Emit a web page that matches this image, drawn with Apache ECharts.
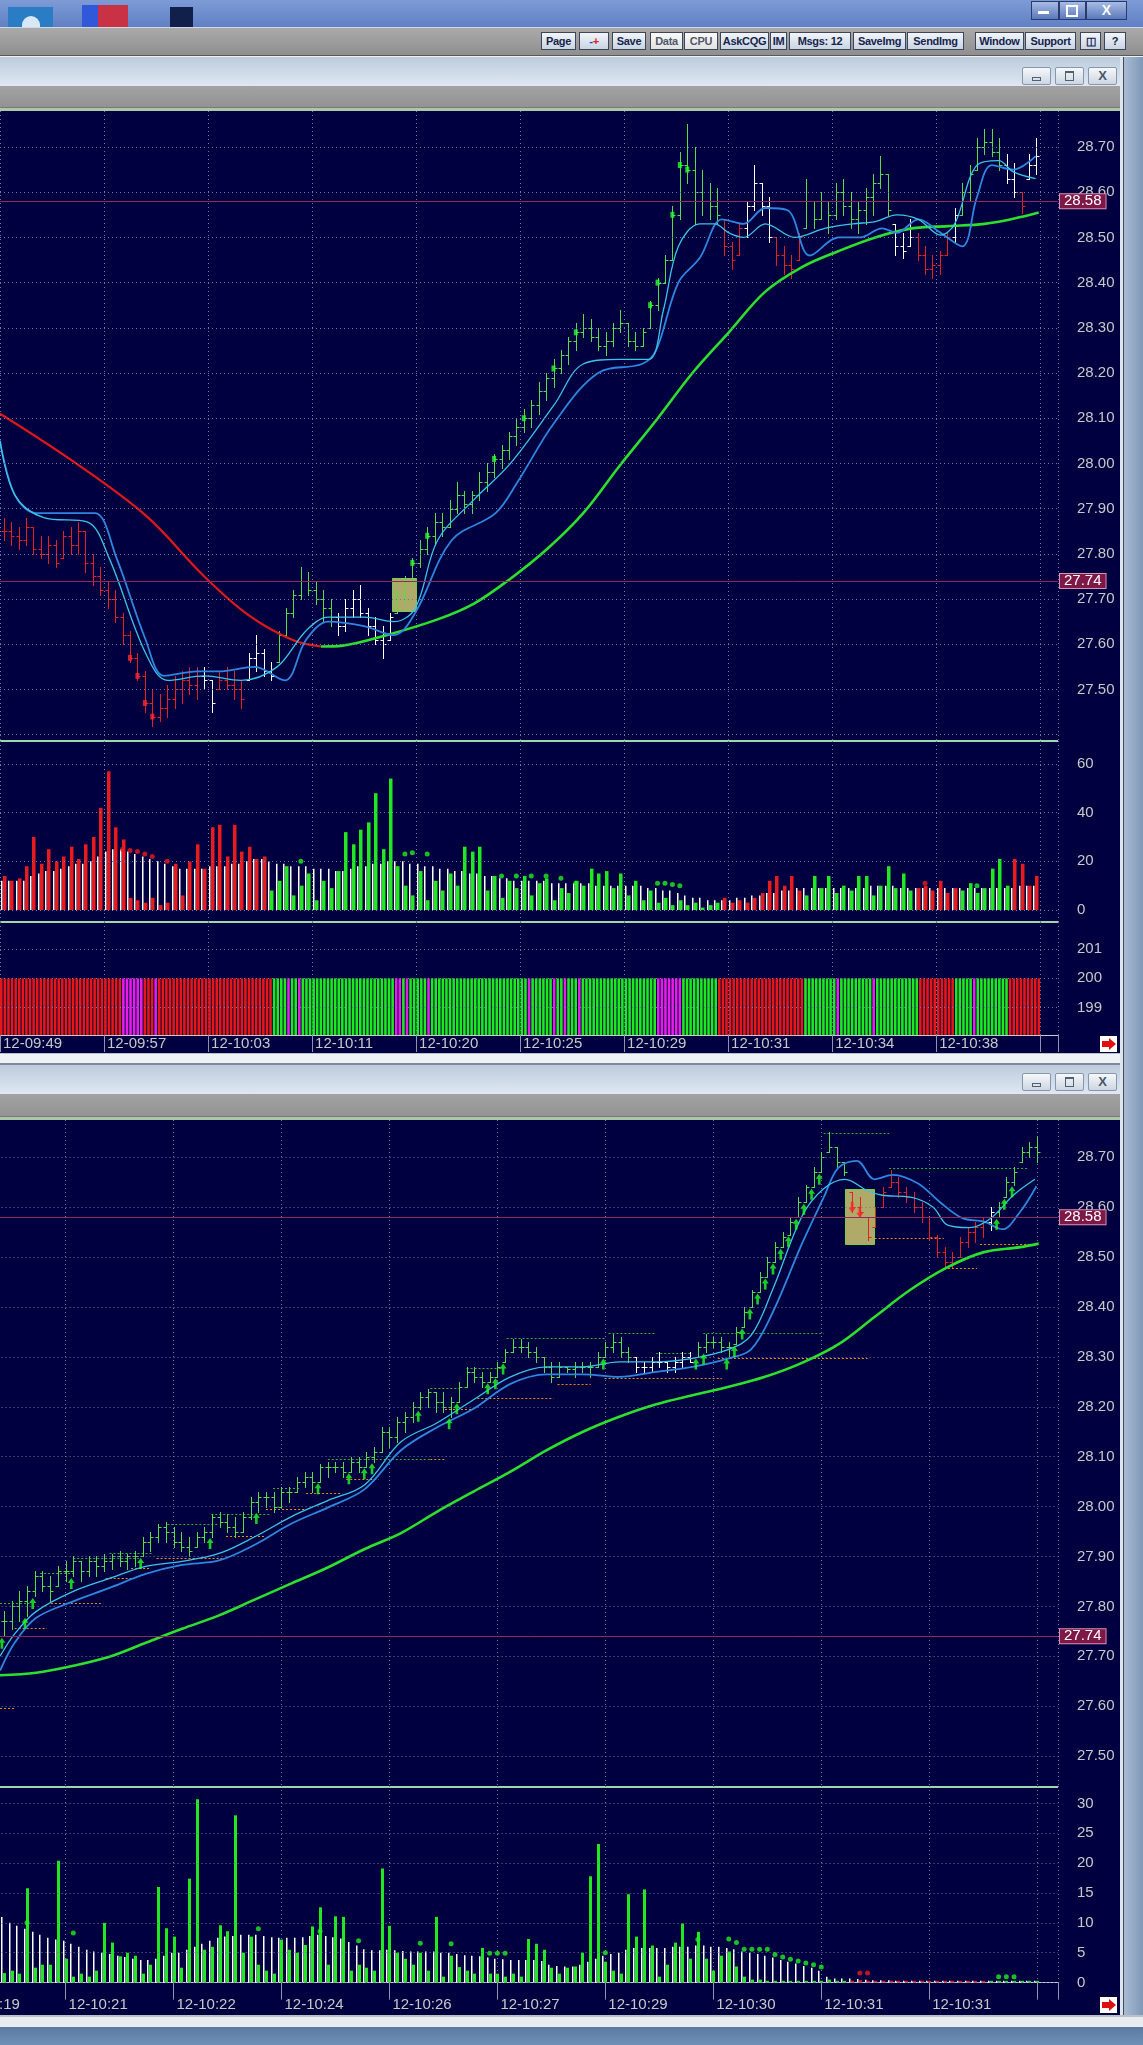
<!DOCTYPE html>
<html>
<head>
<meta charset="utf-8">
<title>CQG charts</title>
<script src="https://cdn.jsdelivr.net/npm/echarts@6.0.0/dist/echarts.min.js"></script>
<style>
  html, body { margin: 0; padding: 0; }
  body { width: 1143px; height: 2045px; position: relative; overflow: hidden; background: #6a88b0; font-family: 'Liberation Sans', Arial, sans-serif; }
  .a { position: absolute; }
  .btn { position: absolute; top: 32px; height: 16px; border: 1px solid #3c4658; background: linear-gradient(#f2f5fa, #c9d4e3); color: #16244a; font: bold 11px 'Liberation Sans Narrow', 'Liberation Sans', sans-serif; line-height: 16px; text-align: center; letter-spacing: -0.3px; white-space: nowrap; overflow: hidden; }
  .btn.lt { background: linear-gradient(#fafafa, #e2e2e2); color: #505868; }
  .wb { position: absolute; width: 27px; height: 16px; border: 1px solid #8896ab; border-radius: 2px; background: linear-gradient(#f6f8fb, #ccd6e2); }
  .tbar { position: absolute; left: 0; width: 1120px; background: linear-gradient(#bccbdc, #dfe8f3); }
  .gbar { position: absolute; left: 0; width: 1120px; background: linear-gradient(#a2a2a2, #939393); border-bottom: 1px solid #7a7a7a; }
  .pale { position: absolute; left: 0; width: 1120px; height: 3px; background: #a8c8a8; }
  .navy { position: absolute; left: 0; width: 1120px; background: #000040; }
  .sep { position: absolute; left: 0; width: 1058px; height: 2px; background: #9cd8aa; }
  .rarrow { position: absolute; left: 1100px; width: 17px; height: 16px; background: #ffffff; z-index: 3; }
  .rarrow i { position: absolute; left: 2px; top: 5px; width: 7px; height: 6px; background: #e01010; }
  .rarrow b { position: absolute; left: 9px; top: 2px; width: 0; height: 0; border-left: 7px solid #e01010; border-top: 6px solid transparent; border-bottom: 6px solid transparent; }
  #chart { position: absolute; left: 0; top: 0; width: 1143px; height: 2045px; z-index: 2; }
</style>
</head>
<body>
<!-- desktop / glass strip -->
<div class="a" style="left:0;top:0;width:1143px;height:27px;background:linear-gradient(#7d9bd6,#5f80c4)"></div>
<div class="a" style="left:8px;top:7px;width:45px;height:20px;background:#2a7cc4"></div>
<div class="a" style="left:22px;top:16px;width:18px;height:11px;border-radius:9px 9px 0 0;background:#d8e8f8"></div>
<div class="a" style="left:82px;top:5px;width:16px;height:22px;background:#3058d8"></div>
<div class="a" style="left:98px;top:5px;width:30px;height:22px;background:#c83244"></div>
<div class="a" style="left:170px;top:7px;width:23px;height:20px;background:#10204a"></div>
<div class="a" style="left:1031px;top:1px;width:26px;height:17px;border:1px solid #2a3a6a;background:linear-gradient(#a8bce4,#5a78bc)"></div>
<div class="a" style="left:1038px;top:11px;width:11px;height:3px;background:#fff"></div>
<div class="a" style="left:1059px;top:1px;width:25px;height:17px;border:1px solid #2a3a6a;background:linear-gradient(#a8bce4,#5a78bc)"></div>
<div class="a" style="left:1066px;top:5px;width:8px;height:8px;border:2px solid #fff"></div>
<div class="a" style="left:1086px;top:1px;width:39px;height:17px;border:1px solid #2a3a6a;background:linear-gradient(#a8bce4,#5a78bc);color:#fff;font:bold 14px 'Liberation Sans';text-align:center;line-height:17px">X</div>

<!-- toolbar -->
<div class="a" style="left:0;top:27px;width:1143px;height:28px;background:linear-gradient(#aaaaaa,#8e8e8e);border-top:1px solid #d0d8e8"></div>
<div class="btn" style="left:541px;width:33px">Page</div>
<div class="btn" style="left:579px;width:28px"><span style="color:#2040d0">-</span><span style="color:#e02020">+</span></div>
<div class="btn" style="left:612px;width:32px">Save</div>
<div class="btn lt" style="left:650px;width:31px">Data</div>
<div class="btn lt" style="left:684px;width:32px">CPU</div>
<div class="btn" style="left:720px;width:47px">AskCQG</div>
<div class="btn" style="left:770px;width:15px">IM</div>
<div class="btn" style="left:789px;width:60px">Msgs: 12</div>
<div class="btn" style="left:853px;width:51px">SaveImg</div>
<div class="btn" style="left:907px;width:55px">SendImg</div>
<div class="btn" style="left:975px;width:47px">Window</div>
<div class="btn" style="left:1025px;width:49px">Support</div>
<div class="btn" style="left:1080px;width:19px">&#9707;</div>
<div class="btn" style="left:1104px;width:20px">?</div>
<div class="a" style="left:0;top:55px;width:1143px;height:1px;background:#5a5a5a"></div>
<div class="a" style="left:0;top:56px;width:1143px;height:1px;background:#f0f0f0"></div>

<!-- window frame on the right -->
<div class="a" style="left:1120px;top:57px;width:3px;height:1970px;background:#dde6ef"></div>
<div class="a" style="left:1123px;top:57px;width:1px;height:1970px;background:#404a5a"></div>
<div class="a" style="left:1124px;top:57px;width:19px;height:1970px;background:linear-gradient(90deg,#a9bbd3,#7f98b8)"></div>

<!-- window 1 -->
<div class="tbar" style="top:57px;height:29px"></div>
<div class="wb" style="left:1022px;top:67px"><div class="a" style="left:9px;top:9px;width:7px;height:2px;border:1px solid #506070"></div></div>
<div class="wb" style="left:1055px;top:67px"><div class="a" style="left:9px;top:3px;width:7px;height:7px;border:1px solid #506070;border-top-width:2px"></div></div>
<div class="wb" style="left:1088px;top:67px;color:#4a5668;font:bold 13px 'Liberation Sans';text-align:center;line-height:16px">X</div>
<div class="gbar" style="top:86px;height:21px"></div>
<div class="pale" style="top:108px"></div>
<div class="navy" style="top:111px;height:942px"></div>
<div class="sep" style="top:740px"></div>
<div class="sep" style="top:921px"></div>
<div class="rarrow" style="top:1036px"><i></i><b></b></div>
<div class="a" style="left:0;top:1053px;width:1120px;height:1px;background:#b8c0c8"></div>
<div class="a" style="left:0;top:1054px;width:1120px;height:9px;background:#eef2f6"></div>
<div class="a" style="left:0;top:1063px;width:1120px;height:2px;background:#7c8a9c"></div>

<!-- window 2 -->
<div class="tbar" style="top:1065px;height:29px"></div>
<div class="wb" style="left:1022px;top:1073px"><div class="a" style="left:9px;top:9px;width:7px;height:2px;border:1px solid #506070"></div></div>
<div class="wb" style="left:1055px;top:1073px"><div class="a" style="left:9px;top:3px;width:7px;height:7px;border:1px solid #506070;border-top-width:2px"></div></div>
<div class="wb" style="left:1088px;top:1073px;color:#4a5668;font:bold 13px 'Liberation Sans';text-align:center;line-height:16px">X</div>
<div class="gbar" style="top:1094px;height:22px"></div>
<div class="pale" style="top:1117px"></div>
<div class="navy" style="top:1120px;height:895px"></div>
<div class="sep" style="top:1786px"></div>
<div class="rarrow" style="top:1997px"><i></i><b></b></div>
<div class="a" style="left:0;top:2015px;width:1143px;height:2px;background:#b8c0c8"></div>
<div class="a" style="left:0;top:2017px;width:1143px;height:10px;background:#e8ecf0"></div>
<div class="a" style="left:0;top:2027px;width:1143px;height:18px;background:linear-gradient(#5a7aa0,#7090b8)"></div>

<div id="chart"></div>

<script>
// ---------- upper window: ~140 bars, x = bar slot ----------
const TOP_TIMES = ['12-09:49', '12-09:57', '12-10:03', '12-10:11', '12-10:20', '12-10:25', '12-10:29', '12-10:31', '12-10:34', '12-10:38'];

const TOP_LO = [
  27.83, 27.82, 27.81, 27.82, 27.80, 27.79, 27.78, 27.77, 27.79, 27.80,
  27.80, 27.76, 27.73, 27.71, 27.68, 27.65, 27.60, 27.56, 27.52, 27.45,
  27.42, 27.43, 27.44, 27.46, 27.47, 27.49, 27.48, 27.50, 27.45, 27.50,
  27.50, 27.48, 27.46, 27.52, 27.54, 27.53, 27.52, 27.56, 27.62, 27.66,
  27.70, 27.71, 27.69, 27.65, 27.64, 27.62, 27.63, 27.66, 27.66, 27.62,
  27.60, 27.57, 27.61, 27.67, 27.69, 27.73, 27.77, 27.80, 27.82, 27.84,
  27.86, 27.89, 27.89, 27.89, 27.92, 27.94, 27.97, 27.99, 28.01, 28.04,
  28.07, 28.08, 28.11, 28.14, 28.17, 28.20, 28.22, 28.25, 28.28, 28.27,
  28.25, 28.24, 28.26, 28.29, 28.26, 28.25, 28.26, 28.30, 28.34, 28.40,
  28.45, 28.54, 28.62, 28.53, 28.55, 28.54, 28.53, 28.46, 28.43, 28.46,
  28.50, 28.56, 28.55, 28.49, 28.44, 28.42, 28.41, 28.45, 28.52, 28.52,
  28.54, 28.51, 28.54, 28.55, 28.52, 28.51, 28.53, 28.55, 28.61, 28.55,
  28.46, 28.455, 28.48, 28.45, 28.42, 28.41, 28.42, 28.46, 28.49, 28.55,
  28.58, 28.65, 28.685, 28.68, 28.65, 28.62, 28.59, 28.555, 28.63, 28.64
];
const TOP_HI = [
  27.88, 27.87, 27.86, 27.88, 27.86, 27.84, 27.84, 27.83, 27.85, 27.86,
  27.87, 27.85, 27.80, 27.77, 27.74, 27.72, 27.67, 27.63, 27.58, 27.54,
  27.50, 27.49, 27.51, 27.53, 27.54, 27.55, 27.55, 27.55, 27.52, 27.54,
  27.55, 27.54, 27.52, 27.58, 27.62, 27.59, 27.56, 27.63, 27.68, 27.72,
  27.77, 27.76, 27.74, 27.72, 27.70, 27.67, 27.70, 27.72, 27.73, 27.68,
  27.66, 27.64, 27.67, 27.72, 27.75, 27.79, 27.83, 27.86, 27.89, 27.89,
  27.92, 27.96, 27.94, 27.94, 27.98, 28.00, 28.02, 28.04, 28.07, 28.10,
  28.12, 28.14, 28.18, 28.20, 28.23, 28.25, 28.28, 28.31, 28.33, 28.32,
  28.30, 28.29, 28.31, 28.34, 28.31, 28.29, 28.30, 28.36, 28.41, 28.46,
  28.57, 28.69, 28.75, 28.70, 28.65, 28.62, 28.61, 28.54, 28.49, 28.53,
  28.58, 28.66, 28.62, 28.59, 28.50, 28.48, 28.46, 28.51, 28.63, 28.58,
  28.60, 28.58, 28.62, 28.63, 28.60, 28.58, 28.61, 28.64, 28.68, 28.64,
  28.53, 28.51, 28.54, 28.51, 28.48, 28.46, 28.47, 28.51, 28.565, 28.62,
  28.66, 28.72, 28.74, 28.74, 28.72, 28.685, 28.665, 28.60, 28.685, 28.72
];
const TOP_CL = [
  27.85, 27.84, 27.83, 27.86, 27.81, 27.80, 27.82, 27.78, 27.84, 27.82,
  27.85, 27.78, 27.75, 27.72, 27.70, 27.66, 27.62, 27.57, 27.53, 27.47,
  27.44, 27.46, 27.48, 27.50, 27.52, 27.51, 27.53, 27.52, 27.47, 27.52,
  27.51, 27.50, 27.48, 27.57, 27.58, 27.54, 27.53, 27.62, 27.67, 27.71,
  27.74, 27.72, 27.70, 27.68, 27.66, 27.64, 27.68, 27.70, 27.67, 27.64,
  27.61, 27.60, 27.66, 27.71, 27.74, 27.78, 27.81, 27.84, 27.87, 27.86,
  27.90, 27.93, 27.91, 27.93, 27.96, 27.98, 28.01, 28.03, 28.06, 28.08,
  28.10, 28.13, 28.16, 28.19, 28.21, 28.24, 28.27, 28.29, 28.30, 28.28,
  28.26, 28.27, 28.30, 28.31, 28.27, 28.26, 28.29, 28.35, 28.40, 28.45,
  28.55, 28.66, 28.65, 28.60, 28.58, 28.57, 28.55, 28.48, 28.45, 28.52,
  28.57, 28.62, 28.57, 28.50, 28.46, 28.44, 28.43, 28.50, 28.58, 28.54,
  28.58, 28.55, 28.60, 28.57, 28.54, 28.56, 28.59, 28.62, 28.64, 28.56,
  28.48, 28.47, 28.50, 28.46, 28.43, 28.44, 28.46, 28.50, 28.55, 28.60,
  28.64, 28.70, 28.71, 28.69, 28.66, 28.63, 28.60, 28.57, 28.66, 28.68
];
// bar colour runs: g = up, r = down, w = neutral
const TOP_BAR_RUNS = [['r', 27], ['w', 2], ['r', 4], ['w', 4], ['g', 8], ['w', 8], ['g', 44], ['r', 3], ['w', 4], ['r', 4],
  ['g', 12], ['w', 3], ['r', 5], ['w', 1], ['g', 6], ['w', 2], ['r', 1], ['w', 2]];

const TOP_MA_RED = [[0, 28.11], [9.8, 28.005], [19.6, 27.885], [27.5, 27.75], [33.4, 27.665], [39.3, 27.61], [43.2, 27.595]];
const TOP_MA_GREEN = [[43.2, 27.595], [46.1, 27.597], [52, 27.62], [58.9, 27.655], [63.8, 27.69], [68.7, 27.745], [73.6, 27.81],
  [78.5, 27.89], [83.4, 27.995], [88.3, 28.095], [93.2, 28.20], [98.1, 28.29], [103, 28.38], [108, 28.435], [112.9, 28.47],
  [117.8, 28.50], [122.7, 28.52], [127.6, 28.525], [132.5, 28.53], [137.4, 28.545], [139.8, 28.555]];
const TOP_MA_CYAN = [[0, 28.05], [2, 27.93], [5.9, 27.88], [11.8, 27.87], [14.7, 27.79], [19.6, 27.58], [22.6, 27.52], [27.5, 27.53],
  [32.4, 27.52], [37.3, 27.55], [41.2, 27.63], [44.2, 27.66], [49, 27.66], [53, 27.65], [55.9, 27.68], [58.9, 27.83], [63.8, 27.92],
  [68.7, 28.00], [74.6, 28.13], [78.5, 28.22], [83.4, 28.23], [87.3, 28.23], [89.3, 28.34], [91.3, 28.48], [94.2, 28.53], [96.2, 28.53],
  [98.1, 28.51], [100.1, 28.50], [103, 28.53], [107, 28.50], [111, 28.52], [114.8, 28.53], [117.8, 28.535], [120.7, 28.55],
  [123.6, 28.54], [126.6, 28.505], [128.5, 28.53], [131.5, 28.66], [134.4, 28.67], [136.4, 28.645], [139.4, 28.63]];
const TOP_MA_BLUE = [[0, 28.05], [2, 27.93], [4.9, 27.89], [9.8, 27.89], [12.8, 27.89], [15.7, 27.79], [19.6, 27.61], [22.1, 27.53],
  [26.5, 27.54], [29.4, 27.54], [34.3, 27.55], [38.3, 27.52], [41.2, 27.61], [44.2, 27.65], [49, 27.64], [53, 27.62], [55.9, 27.67],
  [60.8, 27.83], [66.7, 27.89], [69.7, 27.96], [74.6, 28.09], [80.5, 28.20], [86.4, 28.22], [88.3, 28.25], [91.3, 28.40],
  [94.2, 28.455], [97.2, 28.54], [100.1, 28.53], [103, 28.565], [106, 28.56], [109, 28.46], [112.9, 28.50], [115.8, 28.50],
  [118.7, 28.52], [120.7, 28.51], [123.6, 28.54], [126.6, 28.51], [129.5, 28.48], [131.5, 28.59], [133.5, 28.66], [136.4, 28.65],
  [139.4, 28.68]];
const TOP_BOX = [52.7, 55.9, 27.746, 27.672];
const TOP_MARK_GREEN = [55, 57, 66, 70, 74, 77, 87, 88, 90, 91, 92];
const TOP_MARK_RED = [17, 18, 19, 20];

const TOP_VOL = [
  14, 12, 13, 18, 30, 19, 25, 20, 22, 26,
  21, 27, 30, 42, 57, 34, 29, 5, 4, 3,
  5, 2, 3, 19, 6, 20, 27, 17, 34, 35,
  22, 35, 24, 26, 21, 22, 8, 12, 18, 6,
  10, 15, 4, 12, 9, 16, 32, 27, 33, 36,
  48, 25, 54, 18, 10, 6, 16, 4, 12, 8,
  15, 10, 26, 24, 26, 8, 14, 5, 12, 9,
  14, 6, 11, 13, 4, 9, 7, 12, 10, 17,
  15, 16, 9, 15, 6, 12, 4, 8, 3, 5,
  2, 4, 2, 3, 1, 2, 3, 5, 3, 4,
  3, 5, 7, 12, 14, 10, 14, 8, 6, 14,
  9, 14, 7, 10, 8, 14, 14, 6, 10, 18,
  9, 15, 8, 9, 10, 8, 12, 7, 9, 8,
  11, 7, 9, 17, 21, 10, 21, 19, 10, 14
];
const TOP_VOL_AVG = [
  12, 12, 12, 12, 14, 15, 16, 16, 17, 18,
  19, 19, 20, 22, 24, 25, 25, 24, 23, 22,
  21, 20, 19, 18, 17, 17, 17, 17, 18, 18,
  18, 19, 19, 20, 21, 21, 20, 19, 19, 18,
  18, 18, 17, 17, 17, 16, 16, 17, 18, 18,
  19, 19, 20, 20, 20, 19, 19, 18, 18, 17,
  17, 16, 16, 15, 15, 14, 14, 13, 13, 12,
  12, 12, 12, 12, 11, 11, 11, 11, 11, 11,
  10, 10, 10, 10, 10, 10, 10, 9, 9, 8,
  8, 7, 6, 5, 5, 4, 4, 4, 4, 5,
  5, 6, 6, 7, 7, 8, 8, 9, 9, 9,
  9, 9, 9, 9, 9, 9, 9, 10, 10, 10,
  10, 9, 9, 9, 9, 9, 9, 9, 9, 9,
  9, 9, 9, 9, 9, 9, 9, 10, 10, 10
];
const TOP_VOL_RUNS = [['r', 36], ['g', 61], ['r', 11], ['g', 15], ['r', 6], ['g', 7], ['r', 4]];
const TOP_VOL_DOTS = [[16, 25, 'r'], [17, 24.5, 'r'], [18, 24, 'r'], [19, 23, 'r'], [20, 22, 'r'], [22, 20, 'r'], [40, 20, 'g'],
  [54, 23, 'g'], [55, 23.5, 'g'], [57, 23, 'g'], [67, 14, 'g'], [69, 14, 'g'], [71, 14, 'g'], [73, 14, 'g'], [75, 13, 'g'],
  [77, 11, 'g'], [88, 11, 'g'], [89, 11, 'g'], [90, 10.5, 'g'], [91, 10, 'g'], [124, 11, 'r'], [131, 10, 'g']];

// state strip, one cell per tick bar: R red, M magenta, G green
const IND_RUNS = [['R', 34], ['M', 6], ['R', 3], ['M', 1], ['R', 32], ['G', 4], ['M', 1], ['G', 2], ['M', 1], ['G', 26],
  ['M', 2], ['G', 1], ['M', 1], ['G', 5], ['M', 1], ['G', 27], ['M', 1], ['G', 6], ['M', 1], ['G', 2], ['M', 1], ['G', 3],
  ['M', 1], ['G', 21], ['M', 7], ['G', 10], ['R', 24], ['G', 9], ['M', 1], ['G', 9], ['M', 1], ['G', 12], ['R', 10],
  ['G', 5], ['M', 1], ['G', 9], ['R', 9]];
const IND_LEVEL = 200;

const TOP_PRICE_LINES = [27.40, 27.50, 27.60, 27.70, 27.80, 27.90, 28.00, 28.10, 28.20, 28.30, 28.40, 28.50, 28.60, 28.70];
const TOP_PRICE_LABELS = [27.50, 27.60, 27.70, 27.80, 27.90, 28.00, 28.10, 28.20, 28.30, 28.40, 28.50, 28.60, 28.70];
const TOP_PRICE_MINOR = [27.45, 27.55, 27.65, 27.75, 27.85, 27.95, 28.05, 28.15, 28.25, 28.35, 28.45, 28.55, 28.65, 28.75];
const TOP_VOL_LABELS = [0, 20, 40, 60];
const TOP_VOL_MINOR = [10, 30, 50];
const IND_LABELS = [199, 200, 201];
const IND_MINOR = [199.5, 200.5];
const REF_LEVELS = [28.58, 27.74];

// ---------- lower window: bars at x = 6 .. 140 ----------
const BOT_TIMES = ['12-10:19', '12-10:21', '12-10:22', '12-10:24', '12-10:26', '12-10:27', '12-10:29', '12-10:30', '12-10:31', '12-10:31'];
const BOT_START = 6;
const BOT_LO = [
  27.74, 27.755, 27.77, 27.78, 27.82, 27.83, 27.81, 27.84, 27.85, 27.86,
  27.85, 27.86, 27.86, 27.87, 27.875, 27.88, 27.875, 27.88, 27.90, 27.91,
  27.93, 27.93, 27.92, 27.91, 27.90, 27.92, 27.93, 27.94, 27.96, 27.95,
  27.94, 27.95, 27.975, 27.99, 28.00, 27.99, 28.00, 28.01, 28.03, 28.04,
  28.03, 28.05, 28.06, 28.07, 28.06, 28.07, 28.07, 28.08, 28.09, 28.11,
  28.12, 28.13, 28.15, 28.17, 28.195, 28.20, 28.19, 28.19, 28.18, 28.21,
  28.24, 28.25, 28.24, 28.25, 28.26, 28.29, 28.31, 28.31, 28.30, 28.29,
  28.27, 28.25, 28.26, 28.27, 28.26, 28.27, 28.26, 28.28, 28.30, 28.31,
  28.30, 28.29, 28.27, 28.27, 28.27, 28.28, 28.27, 28.27, 28.28, 28.29,
  28.30, 28.31, 28.32, 28.31, 28.30, 28.325, 28.36, 28.40, 28.43, 28.46,
  28.49, 28.52, 28.545, 28.58, 28.61, 28.64, 28.67, 28.71, 28.68, 28.665,
  28.59, 28.58, 28.535, 28.56, 28.60, 28.64, 28.62, 28.61, 28.59, 28.57,
  28.535, 28.50, 28.48, 28.48, 28.50, 28.52, 28.53, 28.54, 28.555, 28.58,
  28.62, 28.645, 28.69, 28.70, 28.69
];
const BOT_HI = [
  27.79, 27.81, 27.83, 27.84, 27.87, 27.87, 27.86, 27.88, 27.89, 27.90,
  27.89, 27.90, 27.90, 27.905, 27.905, 27.91, 27.905, 27.91, 27.94, 27.95,
  27.965, 27.97, 27.96, 27.95, 27.94, 27.95, 27.96, 27.985, 27.99, 27.985,
  27.98, 27.99, 28.02, 28.03, 28.03, 28.03, 28.04, 28.04, 28.06, 28.07,
  28.07, 28.085, 28.09, 28.09, 28.09, 28.10, 28.10, 28.11, 28.12, 28.16,
  28.16, 28.18, 28.19, 28.21, 28.23, 28.235, 28.23, 28.23, 28.22, 28.25,
  28.28, 28.28, 28.27, 28.27, 28.29, 28.315, 28.335, 28.335, 28.33, 28.32,
  28.30, 28.29, 28.29, 28.28, 28.29, 28.29, 28.29, 28.31, 28.33, 28.345,
  28.34, 28.32, 28.30, 28.29, 28.30, 28.31, 28.29, 28.30, 28.31, 28.31,
  28.33, 28.345, 28.34, 28.34, 28.33, 28.36, 28.40, 28.435, 28.47, 28.50,
  28.53, 28.55, 28.58, 28.62, 28.645, 28.68, 28.71, 28.75, 28.72, 28.69,
  28.63, 28.62, 28.58, 28.60, 28.64, 28.675, 28.66, 28.64, 28.63, 28.61,
  28.58, 28.545, 28.52, 28.51, 28.54, 28.56, 28.57, 28.58, 28.60, 28.61,
  28.66, 28.68, 28.72, 28.73, 28.74
];
const BOT_CL = [
  27.77, 27.80, 27.81, 27.83, 27.86, 27.84, 27.83, 27.87, 27.87, 27.89,
  27.87, 27.89, 27.88, 27.89, 27.90, 27.89, 27.90, 27.90, 27.93, 27.94,
  27.96, 27.95, 27.93, 27.92, 27.91, 27.94, 27.95, 27.98, 27.97, 27.96,
  27.95, 27.98, 28.01, 28.02, 28.02, 28.00, 28.03, 28.03, 28.05, 28.06,
  28.05, 28.08, 28.08, 28.08, 28.07, 28.09, 28.08, 28.10, 28.11, 28.15,
  28.14, 28.17, 28.18, 28.20, 28.22, 28.23, 28.21, 28.20, 28.21, 28.24,
  28.27, 28.26, 28.25, 28.26, 28.28, 28.31, 28.32, 28.32, 28.31, 28.30,
  28.28, 28.26, 28.28, 28.275, 28.28, 28.28, 28.28, 28.30, 28.32, 28.33,
  28.31, 28.30, 28.28, 28.28, 28.29, 28.29, 28.28, 28.29, 28.30, 28.29,
  28.32, 28.33, 28.33, 28.32, 28.32, 28.35, 28.39, 28.43, 28.46, 28.49,
  28.52, 28.54, 28.57, 28.61, 28.64, 28.67, 28.70, 28.72, 28.69, 28.67,
  28.60, 28.59, 28.54, 28.58, 28.63, 28.65, 28.63, 28.62, 28.60, 28.58,
  28.54, 28.51, 28.49, 28.50, 28.53, 28.55, 28.56, 28.57, 28.59, 28.60,
  28.65, 28.67, 28.71, 28.72, 28.71
];
const BOT_BAR_RUNS = [['g', 82], ['w', 8], ['g', 20], ['r', 18], ['w', 1], ['g', 6]];

const BOT_MA_LONG = [[5.5, 27.662], [10.2, 27.667], [15, 27.681], [19.7, 27.699], [24.4, 27.727], [29.1, 27.755], [33.9, 27.782],
  [38.6, 27.814], [43.3, 27.846], [48, 27.878], [52.8, 27.915], [57.5, 27.947], [62.2, 27.99], [66.9, 28.03], [71.7, 28.07],
  [76.4, 28.113], [81.1, 28.15], [85.8, 28.18], [90.6, 28.205], [95.3, 28.223], [100, 28.24], [104.7, 28.26], [109.5, 28.288],
  [114.2, 28.325], [118.9, 28.38], [123.6, 28.435], [128.4, 28.48], [133.1, 28.51], [137.8, 28.52], [140.2, 28.527]];
const BOT_MA_CYAN = [[5.5, 27.70], [7.4, 27.745], [10.2, 27.79], [15, 27.83], [19.7, 27.856], [24.4, 27.88], [29.1, 27.89],
  [33.9, 27.906], [38.6, 27.94], [43.3, 27.98], [48, 28.012], [52.8, 28.044], [57.5, 28.13], [62.2, 28.168], [66.9, 28.214],
  [71.7, 28.26], [76.4, 28.28], [81.1, 28.28], [85.8, 28.29], [90.6, 28.29], [95.3, 28.297], [100, 28.315], [102.9, 28.343],
  [105.7, 28.435], [109.5, 28.582], [112.3, 28.637], [115.1, 28.656], [118, 28.633], [119.9, 28.624], [123.6, 28.62],
  [126.5, 28.60], [128.4, 28.564], [131.2, 28.559], [134, 28.578], [136.9, 28.624], [139.7, 28.656]];
const BOT_MA_BLUE = [[5.5, 27.671], [7.4, 27.727], [10.2, 27.777], [15, 27.81], [19.7, 27.837], [24.4, 27.865], [29.1, 27.883],
  [33.9, 27.892], [38.6, 27.924], [43.3, 27.966], [48, 27.998], [52.8, 28.035], [57.5, 28.113], [62.2, 28.159], [66.9, 28.196],
  [71.7, 28.246], [76.4, 28.265], [81.1, 28.265], [85.8, 28.26], [90.6, 28.27], [95.3, 28.28], [100, 28.297], [102.9, 28.315],
  [105.7, 28.389], [109.5, 28.527], [112.3, 28.619], [114.2, 28.679], [116.6, 28.693], [118.9, 28.656], [121.3, 28.665],
  [124.6, 28.647], [127.4, 28.61], [130.3, 28.578], [133.1, 28.571], [135.5, 28.556], [137.8, 28.591], [139.9, 28.642]];
const BOT_BOX = [115.1, 118.9, 28.637, 28.527];
// dashed trade levels: [from, to, price, g = green / o = orange]
const BOT_LEVELS = [[112.3, 120.8, 28.748, 'g'], [120.8, 138.8, 28.678, 'g'], [118.4, 127.9, 28.538, 'o'], [132.6, 139.7, 28.527, 'o'],
  [127.9, 132.2, 28.478, 'o'], [96.7, 112.3, 28.348, 'g'], [98.6, 118, 28.297, 'o'], [71.2, 84, 28.338, 'g'], [84.4, 90.6, 28.348, 'g'],
  [90.6, 95.3, 28.308, 'g'], [83.9, 99.1, 28.258, 'o'], [77.8, 82.1, 28.246, 'o'], [66, 70.7, 28.277, 'g'], [67.4, 77.3, 28.217, 'o'],
  [61.3, 65, 28.237, 'g'], [63.2, 66.9, 28.196, 'o'], [48, 61.3, 28.096, 'g'], [61.3, 63.2, 28.096, 'o'], [50.4, 54.6, 28.056, 'o'],
  [45.2, 49.9, 28.027, 'o'], [40.9, 44.3, 28.038, 'g'], [40, 45.2, 27.996, 'o'], [32.9, 40.5, 27.986, 'g'], [27.2, 33.9, 27.966, 'g'],
  [34.8, 40, 27.942, 'o'], [15, 23.5, 27.897, 'g'], [25.8, 34.3, 27.897, 'o'], [22.5, 24.9, 27.876, 'o'], [19.7, 25.3, 27.906, 'g'],
  [19.2, 22.5, 27.857, 'o'], [10.7, 15, 27.866, 'g'], [12.1, 18.7, 27.807, 'o'], [5.5, 9.3, 27.807, 'g'], [7.4, 11.6, 27.756, 'o'],
  [5.5, 7.4, 27.596, 'o']];
const BOT_ARROWS_UP = [6, 9, 10, 15, 24, 33, 39, 47, 51, 53, 54, 60, 64, 65, 69, 70, 71, 84, 96, 97, 100, 101, 102, 103, 104, 105,
  106, 107, 108, 109, 110, 111, 112, 135, 136, 137];
const BOT_ARROWS_DOWN = [116, 117];

const BOT_VOL = [
  1.6, 2, 1.5, 15.8, 2.5, 3, 3, 20.4, 4, 1,
  1.5, 1, 2, 10, 6.7, 4.4, 5, 4.5, 1.5, 3,
  16, 9.1, 7.7, 2.5, 17.4, 30.7, 5.5, 6, 9.6, 8.6,
  28, 5, 7.7, 3, 2, 1.5, 7.2, 5.5, 5, 6.3,
  9.4, 12.6, 3, 11.1, 11, 2, 3, 2.5, 2, 19.1,
  9.5, 5, 4, 3, 5, 2, 11, 1, 4.5, 2.6,
  2, 1.5, 5.8, 1.5, 1.5, 1, 1.5, 1, 7.3, 6.5,
  5.5, 2.5, 1.5, 2.5, 2.7, 5, 17.8, 23.2, 3.5, 2,
  1.5, 14.8, 7.7, 15.6, 6.2, 1, 3, 6.7, 9.9, 4,
  8.5, 4, 2, 4.5, 5.2, 2.7, 1, 0.5, 0.5, 0.3,
  0.3, 0.3, 0.3, 0.3, 0.3, 0.3, 0.3, 0.5, 0.3, 0.3,
  0.3, 0.4, 0.3, 0.3, 0.3, 0.3, 0.3, 0.3, 0.3, 0.3,
  0.3, 0.3, 0.3, 0.3, 0.3, 0.3, 0.3, 0.3, 0.3, 0.3,
  0.3, 0.3, 0.3, 0.3, 0.3
];
const BOT_VOL_AVG = [
  11, 10, 9.5, 9, 8.5, 8, 7.5, 7.2, 7, 6.5,
  6, 5.5, 5.2, 5, 4.8, 4.5, 4.3, 4, 3.8, 3.8,
  4, 4.5, 5, 5, 5.5, 6, 6.5, 7, 7.5, 7.7,
  7.8, 8, 8, 8, 7.8, 7.6, 7.5, 7.5, 7.5, 7.6,
  7.8, 8, 7.8, 7.6, 7.4, 6.8, 6.2, 5.6, 5.4, 5.4,
  5.5, 5.4, 5.3, 5.2, 5.2, 5.2, 5.2, 5, 5, 4.8,
  4.6, 4.5, 4.4, 4.2, 4, 3.9, 3.8, 3.8, 3.8, 3.8,
  3.6, 3, 2.8, 2.7, 2.7, 3, 3.5, 4, 4.5, 4.8,
  5, 5.5, 5.8, 5.8, 5.8, 5.8, 5.8, 6, 6, 6,
  6.2, 6.2, 6, 6, 5.8, 5.6, 5.2, 5, 4.8, 4.5,
  4.2, 3.8, 3.5, 3.2, 2.8, 2.5, 2, 1, 0.7, 0.7,
  0.7, 0.6, 0.5, 0.4, 0.4, 0.4, 0.3, 0.3, 0.3, 0.3,
  0.3, 0.3, 0.3, 0.3, 0.3, 0.3, 0.3, 0.3, 0.3, 0.3,
  0.3, 0.3, 0.3, 0.3, 0.3
];
const BOT_VOL_RUNS = [['g', 110], ['r', 18], ['g', 7]];
const BOT_VOL_DOTS = [[9, 10, 'g'], [15, 8.3, 'g'], [39, 9, 'g'], [47, 8.6, 'g'], [52, 7, 'g'], [60, 6.6, 'g'], [64, 6.5, 'g'],
  [69, 4.9, 'g'], [70, 4.9, 'g'], [71, 4.9, 'g'], [84, 5, 'g'], [96, 7.2, 'g'], [100, 7.3, 'g'], [101, 6.7, 'g'], [102, 5.6, 'g'],
  [103, 5.6, 'g'], [104, 5.6, 'g'], [105, 5.6, 'g'], [106, 4.7, 'g'], [107, 4.3, 'g'], [108, 3.9, 'g'], [109, 3.6, 'g'],
  [110, 3.3, 'g'], [111, 3, 'g'], [112, 2.6, 'g'], [117, 1.6, 'r'], [118, 1.6, 'r'], [135, 1, 'g'], [136, 1, 'g'], [137, 1, 'g']];

const BOT_PRICE_LINES = [27.50, 27.60, 27.70, 27.80, 27.90, 28.00, 28.10, 28.20, 28.30, 28.40, 28.50, 28.60, 28.70];
const BOT_PRICE_MINOR = [27.45, 27.55, 27.65, 27.75, 27.85, 27.95, 28.05, 28.15, 28.25, 28.35, 28.45, 28.55, 28.65, 28.75];
const BOT_VOL_LABELS = [0, 5, 10, 15, 20, 25, 30];
const BOT_VOL_MINOR = [2.5, 7.5, 12.5, 17.5, 22.5, 27.5, 32.5];

// ---------- styling ----------
const FONT = 'Liberation Sans';
const LABEL = '#c8c8c8';
const GRID_DOT = '#7078aa';
const BAR_COLORS = { g: '#55dc48', r: '#e42020', w: '#ffffff' };
const VOL_COLORS = { g: '#22e822', r: '#e81c1c' };
const STRIP_COLORS = { R: '#e51717', M: '#e81ee8', G: '#1ee81e' };
const DOT_COLORS = { g: '#22ee22', r: '#e81c1c' };
const LEVEL_COLORS = { g: '#2fb42f', o: '#e88a24' };
const UP_ARROW = 'path://M4,0 L8,5 L5.5,5 L5.5,11 L2.5,11 L2.5,5 L0,5 Z';
const DOWN_ARROW = 'path://M2.5,0 L5.5,0 L5.5,6 L8,6 L4,11 L0,6 L2.5,6 Z';

function expand(runs) {
  const out = [];
  runs.forEach(([c, n]) => { for (let k = 0; k < n; k++) out.push(c); });
  return out;
}

const topBarCol = expand(TOP_BAR_RUNS);
const topVolCol = expand(TOP_VOL_RUNS);
const indCol = expand(IND_RUNS);
const botBarCol = expand(BOT_BAR_RUNS);
const botVolCol = expand(BOT_VOL_RUNS);

const topBars = TOP_CL.map((c, i) => [i + 0.5, TOP_LO[i], TOP_HI[i], i ? TOP_CL[i - 1] : c, c]);
const topVol = TOP_VOL.map((v, i) => [i + 0.5, v, TOP_VOL_AVG[i]]);
const indData = indCol.map((c, k) => [k, IND_LEVEL]);
const botBars = BOT_CL.map((c, i) => [BOT_START + i, BOT_LO[i], BOT_HI[i], i ? BOT_CL[i - 1] : c, c]);
const botVol = BOT_VOL.map((v, i) => [BOT_START + i, v, BOT_VOL_AVG[i]]);

// ---------- renderers ----------
function ohlcRenderer(colors) {
  return function (params, api) {
    const x = api.value(0), lo = api.value(1), hi = api.value(2);
    const op = Math.min(hi, Math.max(lo, api.value(3)));
    const pHi = api.coord([x, hi]), pLo = api.coord([x, lo]);
    const cx = Math.round(pHi[0]) + 0.5;
    const yo = Math.round(api.coord([x, op])[1]) + 0.5;
    const yc = Math.round(api.coord([x, api.value(4)])[1]) + 0.5;
    const st = { stroke: BAR_COLORS[colors[params.dataIndex]], lineWidth: 1 };
    return {
      type: 'group', children: [
        { type: 'line', shape: { x1: cx, y1: Math.round(pHi[1]), x2: cx, y2: Math.round(pLo[1]) + 1 }, style: st },
        { type: 'line', shape: { x1: cx - 3, y1: yo, x2: cx, y2: yo }, style: st },
        { type: 'line', shape: { x1: cx, y1: yc, x2: cx + 3, y2: yc }, style: st }
      ]
    };
  };
}

function volumeRenderer(colors, colW) {
  return function (params, api) {
    const x = api.value(0);
    const b = api.coord([x, 0]), t = api.coord([x, api.value(1)]), m = api.coord([x, api.value(2)]);
    const cx = Math.round(b[0]);
    return {
      type: 'group', children: [
        { type: 'rect', shape: { x: cx - 3, y: m[1], width: 1.5, height: b[1] - m[1] }, style: { fill: '#ffffff' } },
        { type: 'rect', shape: { x: cx - 1, y: t[1], width: colW, height: b[1] - t[1] }, style: { fill: VOL_COLORS[colors[params.dataIndex]] } }
      ]
    };
  };
}

function stripRenderer(params, api) {
  const k = api.value(0);
  const a = api.coord([k, api.value(1)]), b = api.coord([k + 1, 198.07]);
  return { type: 'rect', shape: { x: a[0], y: a[1], width: b[0] - a[0] - 1, height: b[1] - a[1] }, style: { fill: STRIP_COLORS[indCol[params.dataIndex]] } };
}

function boxRenderer(params, api) {
  const a = api.coord([api.value(0), api.value(2)]), b = api.coord([api.value(1), api.value(3)]);
  return { type: 'rect', shape: { x: Math.round(a[0]) + 0.5, y: Math.round(a[1]) + 0.5, width: Math.round(b[0] - a[0]), height: Math.round(b[1] - a[1]) },
    style: { fill: '#b0aa6a', stroke: '#6cd24a', lineWidth: 1 } };
}

function levelRenderer(params, api) {
  const a = api.coord([api.value(0), api.value(2)]), b = api.coord([api.value(1), api.value(2)]);
  const y = Math.round(a[1]) + 0.5;
  return { type: 'line', shape: { x1: a[0], y1: y, x2: b[0], y2: y },
    style: { stroke: LEVEL_COLORS[BOT_LEVELS[params.dataIndex][3]], lineWidth: 1, lineDash: [2, 2] } };
}

// ---------- helpers ----------
function guides(xi, yi, values, tags) {
  const data = values.map(v => ({ yAxis: v }));
  (tags || []).forEach(t => data.push({
    yAxis: t,
    lineStyle: { type: 'solid', color: '#8e2a5c', width: 1 },
    label: {
      show: true, position: 'end', distance: 2, formatter: t.toFixed(2), color: '#ffffff',
      backgroundColor: '#7e1846', borderColor: '#d890b4', borderWidth: 1, padding: [0, 4, 0, 4],
      fontSize: 15, fontFamily: FONT, lineHeight: 14
    }
  }));
  return {
    type: 'line', xAxisIndex: xi, yAxisIndex: yi, data: [[0, values[0]]], showSymbol: false,
    lineStyle: { opacity: 0 }, silent: true, z: 1,
    markLine: {
      silent: true, symbol: ['none', 'none'], animation: false, label: { show: false },
      lineStyle: { type: [1, 3], color: GRID_DOT, width: 1 }, emphasis: { disabled: true }, data
    }
  };
}

function xAxisCfg(gi, max, labels) {
  return {
    type: 'value', gridIndex: gi, min: 0, max: max, interval: 14,
    axisLine: { show: !!labels, lineStyle: { color: '#c4ccd4', width: 1 } },
    axisTick: { show: !!labels, length: 17, lineStyle: { color: '#8c94b0' } },
    axisLabel: labels ? {
      show: true, margin: 1, align: 'left', padding: [0, 0, 0, 3], color: LABEL, fontSize: 15, fontFamily: FONT,
      showMinLabel: true, showMaxLabel: true, formatter: v => labels[Math.round(v / 14)] || ''
    } : { show: false },
    splitLine: { show: true, lineStyle: { type: [1, 3], color: GRID_DOT, width: 1 } }
  };
}

function yAxisCfg(gi, min, max, labels, minor, fmt) {
  return {
    type: 'value', gridIndex: gi, position: 'right', min: min, max: max,
    axisLine: { show: false },
    axisTick: { show: true, inside: true, length: 4, customValues: minor, lineStyle: { color: '#8088aa' } },
    axisLabel: { show: true, customValues: labels, margin: 19, color: LABEL, fontSize: 15, fontFamily: FONT, formatter: fmt },
    splitLine: { show: false }
  };
}

function maLine(xi, yi, data, color, width, z) {
  return { type: 'line', xAxisIndex: xi, yAxisIndex: yi, data: data, smooth: 0.35, showSymbol: false, silent: true,
    lineStyle: { color: color, width: width }, z: z || 4 };
}

function dots(xi, yi, list, shift) {
  return { type: 'scatter', xAxisIndex: xi, yAxisIndex: yi, symbolSize: 5, silent: true, z: 5,
    data: list.map(d => ({ value: [d[0] + shift, d[1]], itemStyle: { color: DOT_COLORS[d[2]] } })) };
}

const price2 = v => v.toFixed(2);
const plain = v => String(v);
const gridBase = { containLabel: false, outerBoundsMode: 'none' };

const chart = echarts.init(document.getElementById('chart'), null, { width: 1143, height: 2045 });
chart.setOption({
  backgroundColor: 'transparent',
  animation: false,
  textStyle: { fontFamily: FONT },
  grid: [
    Object.assign({ left: 0, top: 111, width: 1058, height: 630 }, gridBase),
    Object.assign({ left: 0, top: 741, width: 1058, height: 181 }, gridBase),
    Object.assign({ left: 0, top: 922, width: 1058, height: 113 }, gridBase),
    Object.assign({ left: -42.4, top: 1120, width: 1100.4, height: 666 }, gridBase),
    Object.assign({ left: -42.4, top: 1786, width: 1100.4, height: 210 }, gridBase)
  ],
  xAxis: [
    xAxisCfg(0, 142.4, null),
    xAxisCfg(1, 142.4, null),
    xAxisCfg(2, 142.4, TOP_TIMES),
    xAxisCfg(3, 142.7, null),
    xAxisCfg(4, 142.7, BOT_TIMES),
    { type: 'value', gridIndex: 2, min: 0, max: 294.7, show: false }
  ],
  yAxis: [
    yAxisCfg(0, 27.386, 28.7796, TOP_PRICE_LABELS, TOP_PRICE_MINOR, price2),
    yAxisCfg(1, -4.93, 69.45, TOP_VOL_LABELS, TOP_VOL_MINOR, plain),
    yAxisCfg(2, 198.07, 201.92, IND_LABELS, IND_MINOR, plain),
    yAxisCfg(3, 27.44, 28.7748, BOT_PRICE_LINES, BOT_PRICE_MINOR, price2),
    yAxisCfg(4, -2.24, 32.91, BOT_VOL_LABELS, BOT_VOL_MINOR, plain)
  ],
  series: [
    // upper price panel
    guides(0, 0, TOP_PRICE_LINES, REF_LEVELS),
    { type: 'custom', xAxisIndex: 0, yAxisIndex: 0, data: [TOP_BOX], renderItem: boxRenderer, silent: true, z: 2 },
    { type: 'custom', xAxisIndex: 0, yAxisIndex: 0, data: topBars, renderItem: ohlcRenderer(topBarCol), silent: true, z: 3 },
    maLine(0, 0, TOP_MA_RED, '#e01818', 2.2),
    maLine(0, 0, TOP_MA_GREEN, '#2ee02e', 2.6),
    maLine(0, 0, TOP_MA_BLUE, '#2f86e0', 1.8),
    maLine(0, 0, TOP_MA_CYAN, '#3cc4e6', 1.3),
    { type: 'scatter', xAxisIndex: 0, yAxisIndex: 0, symbol: 'rect', symbolSize: [4, 6], silent: true, z: 5,
      data: TOP_MARK_GREEN.map(i => ({ value: [i + 0.5, TOP_CL[i]], itemStyle: { color: '#2cff2c' } }))
        .concat(TOP_MARK_RED.map(i => ({ value: [i + 0.5, TOP_CL[i]], itemStyle: { color: '#ff2a2a' } }))) },
    // upper volume panel
    guides(1, 1, TOP_VOL_LABELS),
    { type: 'custom', xAxisIndex: 1, yAxisIndex: 1, data: topVol, renderItem: volumeRenderer(topVolCol, 3.5), silent: true, z: 3 },
    dots(1, 1, TOP_VOL_DOTS, 0.5),
    // state strip
    guides(2, 2, IND_LABELS),
    { type: 'custom', xAxisIndex: 5, yAxisIndex: 2, data: indData, renderItem: stripRenderer, silent: true, z: 3 },
    // lower price panel
    guides(3, 3, BOT_PRICE_LINES, REF_LEVELS),
    { type: 'custom', xAxisIndex: 3, yAxisIndex: 3, data: BOT_LEVELS.map(l => [l[0], l[1], l[2]]), renderItem: levelRenderer, silent: true, z: 2 },
    { type: 'custom', xAxisIndex: 3, yAxisIndex: 3, data: [BOT_BOX], renderItem: boxRenderer, silent: true, z: 2 },
    { type: 'custom', xAxisIndex: 3, yAxisIndex: 3, data: botBars, renderItem: ohlcRenderer(botBarCol), silent: true, z: 3 },
    maLine(3, 3, BOT_MA_LONG, '#2ee02e', 2.6),
    maLine(3, 3, BOT_MA_BLUE, '#2f86e0', 1.8),
    maLine(3, 3, BOT_MA_CYAN, '#3cc4e6', 1.3),
    { type: 'scatter', xAxisIndex: 3, yAxisIndex: 3, symbol: UP_ARROW, symbolSize: [7, 11], symbolOffset: [-2, 7], silent: true, z: 5,
      itemStyle: { color: '#22ff22' }, data: BOT_ARROWS_UP.map(u => [u, BOT_LO[u - BOT_START]]) },
    { type: 'scatter', xAxisIndex: 3, yAxisIndex: 3, symbol: DOWN_ARROW, symbolSize: [7, 11], silent: true, z: 5,
      itemStyle: { color: '#ff2020' }, data: BOT_ARROWS_DOWN.map(u => [u, BOT_CL[u - BOT_START]]) },
    // lower volume panel
    guides(4, 4, BOT_VOL_LABELS),
    { type: 'custom', xAxisIndex: 4, yAxisIndex: 4, data: botVol, renderItem: volumeRenderer(botVolCol, 3), silent: true, z: 3 },
    dots(4, 4, BOT_VOL_DOTS, 0)
  ]
});
</script>
</body>
</html>
